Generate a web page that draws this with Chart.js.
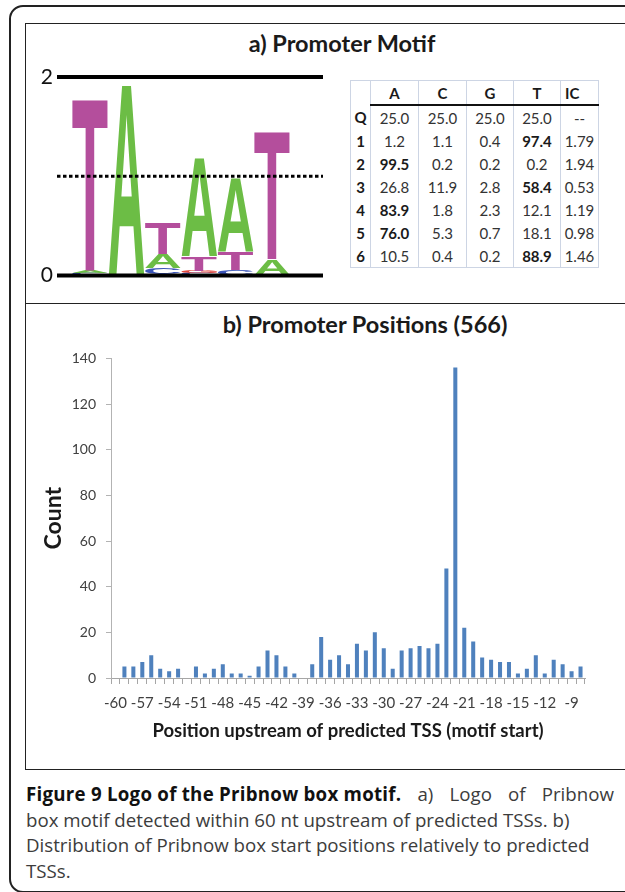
<!DOCTYPE html>
<html>
<head>
<meta charset="utf-8">
<script src="https://cdn.jsdelivr.net/npm/chart.js@4.4.1/dist/chart.umd.min.js"></script>
<style>
  body { margin: 0; width: 625px; height: 892px; background: #fff; position: relative; overflow: hidden; font-family: Lato, sans-serif; }
  .frame { position: absolute; left: 9px; top: 5px; width: 700px; height: 884px; border: 2px solid #222; border-radius: 14px; }
  .panel { position: absolute; left: 25px; top: 23px; width: 700px; height: 745px; border: 1.5px solid #222; }
  .divider { position: absolute; left: 25px; top: 303px; width: 700px; border-top: 1.5px solid #222; }
  .title { position: absolute; font-weight: bold; font-size: 23.5px; line-height: 28px; color: #1a1a1a; transform: translateX(-50%); white-space: nowrap; }
  #logoWrap { position: absolute; left: 30px; top: 60px; width: 300px; height: 232px; }
  #posWrap { position: absolute; left: 40px; top: 340px; width: 560px; height: 402px; }
  #motifTable { position: absolute; left: 350px; top: 80px; border-collapse: collapse; font-size: 15px; color: #333; border: 1.5px solid #cdd5e4; table-layout: fixed; }
  #motifTable td { height: 23px; padding: 0; text-align: center; border-left: 1.5px solid #cdd5e4; border-right: 1.5px solid #cdd5e4; }
  #motifTable td.ic { text-align: left; padding-left: 4px; }
  #motifTable tr.head td { font-weight: bold; color: #1a1a1a; }
  #motifTable tr.head td.col { border-bottom: 2px solid #111; }
  #motifTable td.rowlab { font-weight: bold; color: #1a1a1a; }
  #motifTable td.top { font-weight: bold; color: #1a1a1a; }
  .caption { position: absolute; left: 26px; top: 781px; width: 588px; font-family: "Open Sans", sans-serif; font-size: 18.7px; line-height: 25.7px; color: #3c3c3c; }
  .caption div { white-space: nowrap; }
  .caption .first { display: flex; justify-content: space-between; }
  .caption b { color: #111; letter-spacing: 0.25px; }
</style>
</head>
<body>
<div class="frame"></div>
<div class="panel"></div>
<div class="divider"></div>

<div class="title" style="left:342px; top:29px;">a) Promoter Motif</div>
<div id="logoWrap"><canvas id="motif-logo"></canvas></div>
<table id="motifTable"></table>

<div class="title" style="left:365px; top:310px;">b) Promoter Positions (566)</div>
<div id="posWrap"><canvas id="motif-pos"></canvas></div>

<div class="caption">
  <div class="first"><b>Figure 9 Logo of the Pribnow box motif.</b><span>a)</span><span>Logo</span><span>of</span><span>Pribnow</span></div>
  <div>box motif detected within 60 nt upstream of predicted TSSs. b)</div>
  <div>Distribution of Pribnow box start positions relatively to predicted</div>
  <div>TSSs.</div>
</div>

<script>
// base frequencies (%) per motif position, plus information content
var bases = ['A', 'C', 'G', 'T'];
var motifPos = [1, 2, 3, 4, 5, 6];
var freqA = [1.2, 99.5, 26.8, 83.9, 76.0, 10.5];
var freqC = [1.1, 0.2, 11.9, 1.8, 5.3, 0.4];
var freqG = [0.4, 0.2, 2.8, 2.3, 0.7, 0.2];
var freqT = [97.4, 0.2, 58.4, 12.1, 18.1, 88.9];
var infoContent = [1.79, 1.94, 0.53, 1.19, 0.98, 1.46];
var bgFreq = [25.0, 25.0, 25.0, 25.0];

// motif start positions upstream of TSS
var upstreamPos = ['-60', '-59', '-58', '-57', '-56', '-55', '-54', '-53', '-52', '-51', '-50', '-49', '-48', '-47', '-46', '-45', '-44', '-43', '-42', '-41', '-40', '-39', '-38', '-37', '-36', '-35', '-34', '-33', '-32', '-31', '-30', '-29', '-28', '-27', '-26', '-25', '-24', '-23', '-22', '-21', '-20', '-19', '-18', '-17', '-16', '-15', '-14', '-13', '-12', '-11', '-10', '-9', '-8'];
var posCounts = [0, 5, 5, 7, 10, 4, 3, 4, 0, 5, 2, 4, 6, 2, 2, 1, 5, 12, 10, 5, 2, 0, 6, 18, 8, 10, 6, 15, 12, 20, 13, 4, 12, 13, 14, 13, 15, 48, 136, 22, 16, 9, 8, 7, 7, 2, 4, 10, 2, 8, 6, 3, 5];

var baseColors = { A: '#6cbd45', C: '#3b55b8', G: '#e2463c', T: '#b44e9c' };

function drawGlyph(ctx, ch, left, top, w, h, color) {
  if (h < 0.3) return;
  ctx.save();
  ctx.font = 'bold 100px "Liberation Sans", Arial, sans-serif';
  ctx.textAlign = 'left';
  ctx.textBaseline = 'alphabetic';
  var m = ctx.measureText(ch);
  var gw = m.actualBoundingBoxLeft + m.actualBoundingBoxRight;
  var gh = m.actualBoundingBoxAscent + m.actualBoundingBoxDescent;
  ctx.translate(left, top);
  ctx.scale(w / gw, h / gh);
  ctx.fillStyle = color;
  ctx.fillText(ch, m.actualBoundingBoxLeft, m.actualBoundingBoxAscent);
  ctx.restore();
}

// letters are painted into the (invisible) stacked bars, then the guide lines on top
var letterPlugin = {
  id: 'letters',
  afterDatasetsDraw: function (chart) {
    var ctx = chart.ctx;
    chart.data.datasets.forEach(function (ds, i) {
      chart.getDatasetMeta(i).data.forEach(function (bar, j) {
        var p = bar.getProps(['x', 'y', 'base', 'width'], true);
        drawGlyph(ctx, ds.bases[j], p.x - p.width / 2, p.y, p.width, p.base - p.y, baseColors[ds.bases[j]]);
      });
    });
    var xs = chart.scales.x, ys = chart.scales.y;
    ctx.save();
    ctx.strokeStyle = '#000';
    ctx.lineWidth = 4;
    [0, 2].forEach(function (v) {
      var py = ys.getPixelForValue(v);
      ctx.beginPath(); ctx.moveTo(xs.left, py); ctx.lineTo(xs.right, py); ctx.stroke();
    });
    ctx.lineWidth = 3;
    ctx.setLineDash([3.5, 2.5]);
    var py1 = ys.getPixelForValue(1);
    ctx.beginPath(); ctx.moveTo(xs.left, py1); ctx.lineTo(xs.right, py1); ctx.stroke();
    ctx.restore();
  }
};

function motifLogo() {
  var freqs = { A: freqA, C: freqC, G: freqG, T: freqT };
  // stack order per column: smallest letter at the bottom
  var ranks = [[], [], [], []];
  motifPos.forEach(function (pos, j) {
    var col = bases.map(function (b) {
      return { base: b, h: freqs[b][j] / 100 * infoContent[j] };
    }).sort(function (a, b) { return a.h - b.h; });
    col.forEach(function (c, r) { ranks[r].push(c); });
  });
  var datasets = ranks.map(function (r) {
    return {
      data: r.map(function (c, j) { return { x: motifPos[j], y: c.h }; }),
      bases: r.map(function (c) { return c.base; }),
      backgroundColor: 'rgba(0,0,0,0)',
      borderWidth: 0,
      barPercentage: 0.98,
      categoryPercentage: 1
    };
  });

  new Chart(document.getElementById('motif-logo'), {
    type: 'bar',
    data: { datasets: datasets },
    options: {
      responsive: true,
      maintainAspectRatio: false,
      animation: false,
      events: [],
      layout: { padding: { top: 17, right: 7, bottom: 5, left: 0 } },
      plugins: { legend: { display: false }, tooltip: { enabled: false } },
      scales: {
        x: { type: 'linear', min: 0.09, max: 7.4, offset: false, stacked: true, display: false },
        y: {
          stacked: true, min: 0, max: 2,
          afterFit: function (s) { s.width = 27; },
          grid: { display: false, drawTicks: false },
          border: { display: false },
          ticks: {
            stepSize: 1, padding: 4, color: '#111',
            font: { family: 'Lato', size: 21 },
            callback: function (v) { return v === 1 ? '' : v; }
          }
        }
      }
    },
    plugins: [letterPlugin]
  });
}

function motifTable() {
  var t = document.getElementById('motifTable');
  var widths = [20, 48, 48, 47, 47, 38];
  var html = '<colgroup>' + widths.map(function (w) { return '<col style="width:' + w + 'px">'; }).join('') + '</colgroup>';
  html += '<tr class="head"><td></td>' + bases.map(function (b) { return '<td class="col">' + b + '</td>'; }).join('') + '<td class="col ic">IC</td></tr>';
  html += '<tr><td class="rowlab">Q</td>' + bgFreq.map(function (f) { return '<td>' + f.toFixed(1) + '</td>'; }).join('') + '<td>--</td></tr>';
  motifPos.forEach(function (pos, j) {
    var row = [freqA[j], freqC[j], freqG[j], freqT[j]];
    var top = Math.max.apply(null, row);
    html += '<tr><td class="rowlab">' + pos + '</td>' + row.map(function (f) {
      return '<td' + (f === top ? ' class="top"' : '') + '>' + f.toFixed(1) + '</td>';
    }).join('') + '<td>' + infoContent[j].toFixed(2) + '</td></tr>';
  });
  t.innerHTML = html;
}

function promoterPositions() {
  new Chart(document.getElementById('motif-pos'), {
    type: 'bar',
    data: {
      labels: upstreamPos,
      datasets: [{
        data: posCounts,
        backgroundColor: '#4f81bd',
        borderWidth: 0,
        barPercentage: 0.45,
        categoryPercentage: 1
      }]
    },
    options: {
      responsive: true,
      maintainAspectRatio: false,
      animation: false,
      events: [],
      layout: { padding: { top: 15, right: 15, bottom: 0, left: 0 } },
      plugins: { legend: { display: false }, tooltip: { enabled: false } },
      scales: {
        x: {
          afterFit: function (s) { s.height = 64; },
          grid: { drawOnChartArea: false, color: '#a6a6a6', tickLength: 6 },
          border: { color: '#a6a6a6' },
          ticks: {
            autoSkip: false, maxRotation: 0, padding: 10, color: '#404040',
            font: { family: 'Lato', size: 15 },
            callback: function (v, i) { return i % 3 === 0 ? upstreamPos[i] : ''; }
          },
          title: {
            display: true, text: 'Position upstream of predicted TSS (motif start)',
            color: '#1a1a1a', font: { family: 'Lato', size: 18.5, weight: 'bold' },
            padding: { top: 0, bottom: 0 }
          }
        },
        y: {
          min: 0, max: 140,
          afterFit: function (s) { s.width = 71; },
          grid: { drawOnChartArea: false, color: '#b3b3b3', tickLength: 5 },
          border: { color: '#b3b3b3' },
          ticks: { stepSize: 20, padding: 10, color: '#404040', font: { family: 'Lato', size: 14 } },
          title: {
            display: true, text: 'Count',
            color: '#1a1a1a', font: { family: 'Lato', size: 23, weight: 'bold' },
            padding: { top: 0, bottom: 0 }
          }
        }
      }
    }
  });
}

motifTable();
motifLogo();
promoterPositions();
</script>
</body>
</html>
